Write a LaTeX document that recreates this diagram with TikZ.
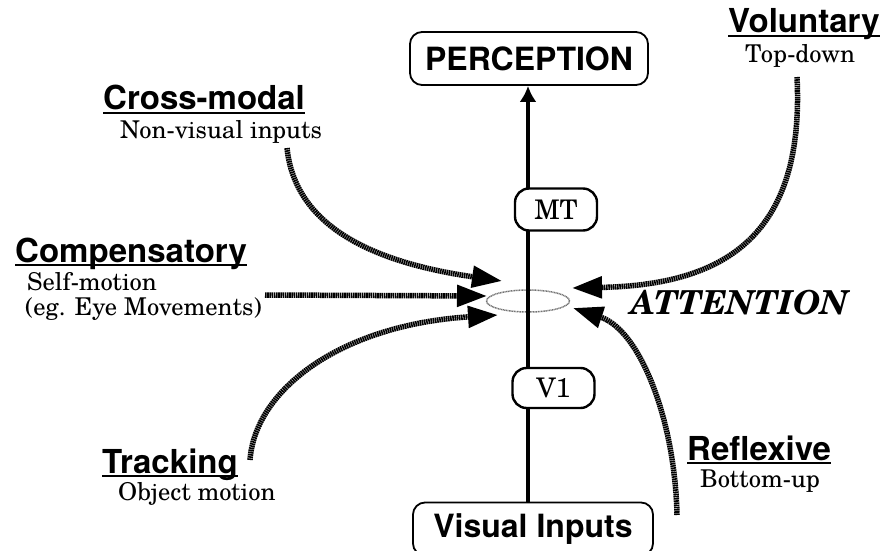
\documentclass[tikz,border=0pt]{standalone}
\usepackage{fontspec}
\setmainfont{TeX Gyre Schola}
\setsansfont{TeX Gyre Heros}
\usetikzlibrary{shapes.geometric, arrows.meta}
\tikzstyle{bigbox} = [rectangle, rounded corners=12pt, draw=black, line width=1.8pt, fill=white, minimum width=238pt, minimum height=53pt, inner sep=0pt, font=\sffamily\bfseries\fontsize{32}{34}\selectfont]
\tikzstyle{area} = [rectangle, rounded corners=14pt, draw=black, line width=2.4pt, fill=white, minimum width=82pt, minimum height=42pt, inner sep=0pt, font=\fontsize{27}{29}\selectfont]
\tikzstyle{focusring} = [ellipse, draw=black!55, dash pattern=on 1pt off 0.6pt, line width=1.5pt, minimum width=83pt, minimum height=22pt, inner sep=0pt]
\tikzstyle{head} = [anchor=base west, inner sep=0pt, font=\sffamily\bfseries\fontsize{33}{35}\selectfont]
\tikzstyle{sub} = [anchor=base west, inner sep=0pt, font=\fontsize{24.5}{26}\selectfont]
\tikzstyle{uline} = [line width=2pt]
\tikzstyle{mainline} = [line width=3.5pt, -{Latex[length=16pt,width=17pt]}]
\tikzstyle{attn} = [line width=5.5pt, black, dash pattern=on 1.6pt off 0.6pt, -{Triangle[length=30pt,width=21pt]}]

\begin{document}
\begin{tikzpicture}[x=1pt,y=-1pt]
    \useasboundingbox (0,0) rectangle (884,551);
    \node at (529,58.5) [bigbox] (perception) {PERCEPTION};
    \node at (533,529) [bigbox, minimum width=240pt] (inputs) {Visual Inputs};
    \node at (528,301) [focusring] (focus) {};
    \draw[mainline] (inputs.north -| focus) -- (perception.south -| focus);
    \node at (556,209.5) [area] (mt) {MT};
    \node at (553.5,388) [area, minimum height=40pt] (v1) {V1};

    % labels
    \node at (103,110) [head] (cross) {Cross-modal};
    \node at (120,138) [sub] (crosssub) {Non-visual inputs};
    \node at (15,262) [head] (comp) {Compensatory};
    \node at (27,290) [sub] (compsub) {Self-motion};
    \node at (25,315) [sub] (compsub2) {(eg. Eye Movements)};
    \node at (102,473) [head] (track) {Tracking};
    \node at (118,500) [sub] (tracksub) {Object motion};
    \node at (728,33) [head] (vol) {Voluntary};
    \node at (745,63) [sub] (volsub) {Top-down};
    \node at (687,460) [head] (reflex) {Reflexive};
    \node at (700,487) [sub] (reflexsub) {Bottom-up};
    \node at (630,314) [anchor=base west, inner sep=0pt, font=\bfseries\itshape\fontsize{33}{35}\selectfont] (attention) {ATTENTION};
    \foreach \n in {cross, comp, track, vol, reflex}
        \draw[uline] ([yshift=-3pt]\n.base west) -- ([yshift=-3pt]\n.base east);

    % attention arrows
    \coordinate (crossA) at (287,148);
    \coordinate (crossB) at (502,281);
    \coordinate (compA) at (265,295);
    \coordinate (compB) at (487,296);
    \coordinate (trackA) at (250,460);
    \coordinate (trackB) at (498,315);
    \coordinate (volA) at (797,77);
    \coordinate (volB) at (572,288);
    \coordinate (reflexA) at (677,515);
    \coordinate (reflexB) at (573,308);
    \draw[attn] (crossA) .. controls (295,225) and (370,262) .. (crossB);
    \draw[attn] (compA) -- (compB);
    \draw[attn] (trackA) .. controls (255,390) and (340,325) .. (trackB);
    \draw[attn] (volA) .. controls (805,240) and (720,285) .. (volB);
    \draw[attn] (reflexA) .. controls (675,420) and (640,330) .. (reflexB);
\end{tikzpicture}
\end{document}
